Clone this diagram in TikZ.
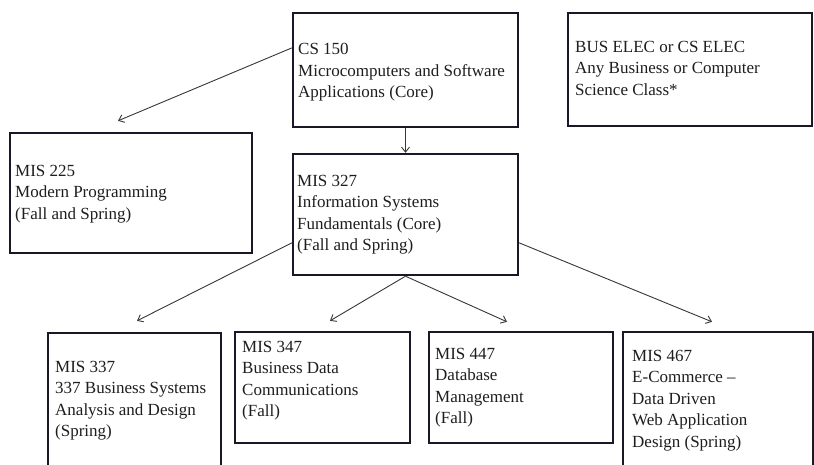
\documentclass[tikz,border=0pt]{standalone}
\usepackage{fontspec}
\setmainfont{Liberation Serif}
\usetikzlibrary{arrows.meta,calc}
\definecolor{boxcol}{RGB}{24,24,38}
\definecolor{textcol}{RGB}{30,30,30}
\definecolor{arrcol}{RGB}{55,55,55}
\begin{document}
\begin{tikzpicture}[x=1pt,y=-1pt,
  boxst/.style={draw=boxcol, line width=2.4pt, inner sep=0pt},
  txt/.style={anchor=north west, align=left, inner sep=0pt, text=textcol, font=\fontsize{17}{21.5}\selectfont},
  conn/.style={draw=arrcol, line width=0.9pt, -{Straight Barb[length=5pt,width=8pt]}}]
\useasboundingbox (0,0) rectangle (814,464);
\fill[white] (0,0) rectangle (814,464);
% boxes
\node[boxst, minimum width=225pt, minimum height=114pt] (cs) at (405.5,70) {};
\node[boxst, minimum width=244pt, minimum height=113pt] (bus) at (690,69.5) {};
\node[boxst, minimum width=242pt, minimum height=120pt] (m225) at (131,193) {};
\node[boxst, minimum width=225pt, minimum height=121pt] (m327) at (405.5,214.5) {};
\node[boxst, minimum width=173pt, minimum height=142pt] (m337) at (134.5,404) {};
\node[boxst, minimum width=175pt, minimum height=111pt] (m347) at (322.5,387.5) {};
\node[boxst, minimum width=184pt, minimum height=111pt] (m447) at (521,387.5) {};
\node[boxst, minimum width=190pt, minimum height=143pt] (m467) at (718,403.5) {};
% texts
\node[txt] (tcs) at (298,43) {CS 150\\Microcomputers and Software\\Applications (Core)};
\node[txt] (tbus) at (575,41) {BUS ELEC or CS ELEC\\Any Business or Computer\\Science Class*};
\node[txt] (t225) at (15,165) {MIS 225\\Modern Programming\\(Fall and Spring)};
\node[txt] (t327) at (297,175) {MIS 327\\Information Systems\\Fundamentals (Core)\\(Fall and Spring)};
\node[txt] (t337) at (55,361) {MIS 337\\337 Business Systems\\Analysis and Design\\(Spring)};
\node[txt] (t347) at (242,341) {MIS 347\\Business Data\\Communications\\(Fall)};
\node[txt] (t447) at (435,348) {MIS 447\\Database\\Management\\(Fall)};
\node[txt] (t467) at (632,350) {MIS 467\\E-Commerce --\\Data Driven\\Web Application\\Design (Spring)};
% connectors
\draw[conn] (cs.169) -- ([xshift=-13pt,yshift=11pt]m225.north);
\draw[conn] (cs.south) -- (m327.north);
\draw[conn] (m327.194) -- ([xshift=2.5pt,yshift=11pt]m337.north);
\draw[conn] (m327.south) -- ([xshift=7.5pt,yshift=10pt]m347.north);
\draw[conn] (m327.south) -- ([xshift=-14pt,yshift=9pt]m447.north);
\draw[conn] (m327.346) -- ([xshift=-6pt,yshift=9pt]m467.north);
\end{tikzpicture}
\end{document}
